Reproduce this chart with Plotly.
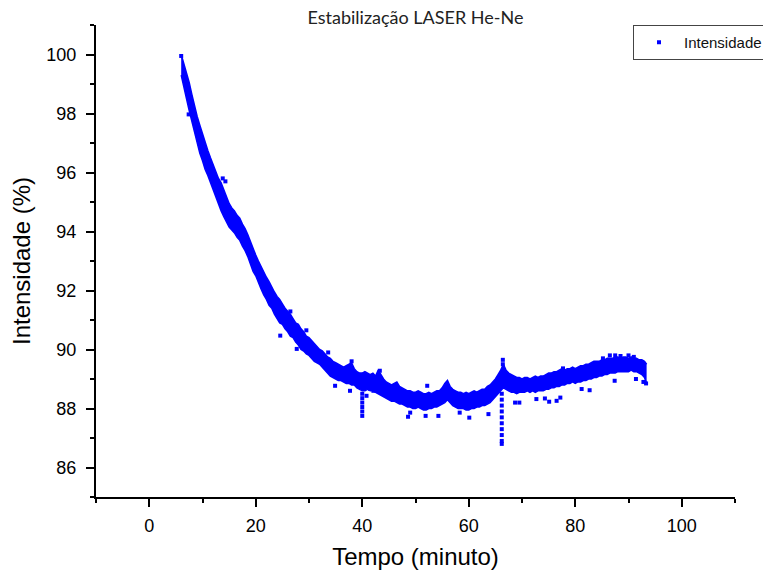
import plotly.graph_objects as go

# ---- data ----
t_band = [6.0, 6.5, 7.0, 7.5, 8.0, 8.5, 9.0, 9.5, 10.0, 10.5, 11.0, 11.5, 12.0, 12.5, 13.0, 13.5,
          14.0, 14.5, 15.0, 15.5, 16.0, 16.5, 17.0, 17.5, 18.0, 18.5, 19.0, 19.5, 20.0, 20.5, 21.0,
          21.5, 22.0, 22.5, 23.0, 23.5, 24.0, 24.5, 25.0, 25.5, 26.0, 26.5, 27.0, 27.5, 28.0, 28.5,
          29.0, 29.5, 30.0, 30.5, 31.0, 31.5, 32.0, 32.5, 33.0, 33.5, 34.0, 34.5, 35.0, 35.5, 36.0,
          36.5, 37.0, 37.5, 38.0, 38.5, 39.0, 39.5, 40.0, 40.5, 41.0, 41.5, 42.0, 42.5, 43.0, 43.5,
          44.0, 44.5, 45.0, 45.5, 46.0, 46.5, 47.0, 47.5, 48.0, 48.5, 49.0, 49.5, 50.0, 50.5, 51.0,
          51.5, 52.0, 52.5, 53.0, 53.5, 54.0, 54.5, 55.0, 55.5, 56.0, 56.5, 57.0, 57.5, 58.0, 58.5,
          59.0, 59.5, 60.0, 60.5, 61.0, 61.5, 62.0, 62.5, 63.0, 63.5, 64.0, 64.5, 65.0, 65.5, 66.0,
          66.5, 67.0, 67.5, 68.0, 68.5, 69.0, 69.5, 70.0, 70.5, 71.0, 71.5, 72.0, 72.5, 73.0, 73.5,
          74.0, 74.5, 75.0, 75.5, 76.0, 76.5, 77.0, 77.5, 78.0, 78.5, 79.0, 79.5, 80.0, 80.5, 81.0,
          81.5, 82.0, 82.5, 83.0, 83.5, 84.0, 84.5, 85.0, 85.5, 86.0, 86.5, 87.0, 87.5, 88.0, 88.5,
          89.0, 89.5, 90.0, 90.5, 91.0, 91.5, 92.0, 92.5, 93.0, 93.4]

band_high = [100.0, 99.7, 99.4, 99.05, 98.65, 98.25, 97.9, 97.6, 97.3, 97.0, 96.75, 96.5, 96.25, 96.0,
             95.8, 95.65, 95.4, 95.15, 94.95, 94.8, 94.7, 94.55, 94.45, 94.25, 94.1, 93.9, 93.65,
             93.4, 93.2, 93.0, 92.8, 92.6, 92.45, 92.3, 92.1, 91.95, 91.8, 91.7, 91.55, 91.4, 91.3,
             91.2, 91.05, 90.9, 90.85, 90.7, 90.6, 90.45, 90.4, 90.3, 90.2, 90.1, 90.0, 89.95, 89.85,
             89.75, 89.7, 89.6, 89.55, 89.5, 89.45, 89.4, 89.45, 89.5, 89.55, 89.35, 89.25, 89.2,
             89.2, 89.25, 89.2, 89.15, 89.2, 89.1, 89.3, 89.15, 89.0, 88.9, 88.85, 88.8, 88.85, 88.9,
             88.75, 88.7, 88.65, 88.6, 88.6, 88.55, 88.55, 88.6, 88.55, 88.5, 88.5, 88.55, 88.5,
             88.55, 88.6, 88.6, 88.7, 88.85, 88.95, 88.75, 88.65, 88.6, 88.55, 88.55, 88.5, 88.55,
             88.5, 88.55, 88.6, 88.55, 88.6, 88.65, 88.65, 88.75, 88.8, 88.9, 89.0, 89.15, 89.3,
             89.5, 89.3, 89.2, 89.15, 89.1, 89.05, 89.05, 89.0, 89.05, 89.05, 89.0, 89.05, 89.1,
             89.05, 89.1, 89.1, 89.15, 89.2, 89.2, 89.25, 89.25, 89.3, 89.35, 89.3, 89.35, 89.35,
             89.4, 89.35, 89.4, 89.45, 89.45, 89.5, 89.5, 89.55, 89.6, 89.6, 89.6, 89.65, 89.65,
             89.7, 89.7, 89.7, 89.75, 89.75, 89.7, 89.75, 89.75, 89.7, 89.75, 89.7, 89.7, 89.65,
             89.65, 89.6, 89.5]

band_low = [99.3, 98.85, 98.5, 98.1, 97.75, 97.35, 97.0, 96.65, 96.4, 96.1, 95.9, 95.65, 95.4, 95.15,
            94.95, 94.7, 94.5, 94.3, 94.15, 94.05, 93.95, 93.8, 93.7, 93.5, 93.35, 93.15, 92.9,
            92.65, 92.5, 92.25, 92.05, 91.85, 91.7, 91.5, 91.4, 91.2, 91.05, 90.9, 90.85, 90.7,
            90.6, 90.45, 90.4, 90.25, 90.15, 90.0, 89.95, 89.85, 89.8, 89.7, 89.6, 89.55, 89.5,
            89.4, 89.3, 89.2, 89.1, 89.05, 89.0, 88.95, 88.95, 88.9, 88.85, 88.85, 88.8, 88.8,
            88.7, 88.65, 88.6, 88.6, 88.65, 88.6, 88.6, 88.55, 88.5, 88.45, 88.4, 88.35, 88.3,
            88.25, 88.25, 88.2, 88.15, 88.15, 88.1, 88.05, 88.05, 88.0, 88.0, 88.05, 88.0, 87.95,
            87.95, 88.0, 88.0, 88.05, 88.05, 88.1, 88.15, 88.2, 88.3, 88.2, 88.1, 88.05, 88.0,
            88.0, 88.0, 87.95, 87.95, 88.0, 88.0, 88.05, 88.05, 88.1, 88.1, 88.15, 88.2, 88.3,
            88.4, 88.5, 88.6, 88.7, 88.65, 88.6, 88.55, 88.55, 88.5, 88.55, 88.55, 88.55, 88.6,
            88.55, 88.6, 88.55, 88.6, 88.6, 88.6, 88.65, 88.65, 88.7, 88.7, 88.75, 88.75, 88.8,
            88.8, 88.85, 88.85, 88.9, 88.85, 88.9, 88.9, 88.95, 88.95, 89.0, 89.0, 89.05, 89.05,
            89.1, 89.1, 89.15, 89.15, 89.2, 89.2, 89.2, 89.25, 89.25, 89.25, 89.25, 89.25, 89.3,
            89.25, 89.25, 89.2, 89.15, 89.05, 88.85]

t_points = [6.0, 7.4, 13.8, 14.3, 24.6, 26.5, 27.7, 29.5, 33.6, 34.9, 37.7, 38.0, 42.1, 40.8, 41.5,
            43.3, 48.6, 49.0, 51.9, 52.2, 54.3, 58.3, 60.1, 63.7,
            40.0, 40.0, 40.0, 40.0, 40.0, 40.0,
            66.2, 66.2, 66.2, 66.2, 66.2, 66.2, 66.2, 66.2, 66.2, 66.2, 66.4, 66.4,
            68.7, 69.5, 72.7, 74.3, 75.1, 76.5, 77.2, 77.7, 81.2, 82.7, 85.2, 87.4, 91.4,
            86.5, 87.5, 88.5, 90.0, 91.0, 92.8, 93.3]
v_points = [99.95, 97.97, 95.8, 95.7, 90.47, 91.29, 90.02, 90.65, 89.9, 88.77, 88.6, 89.6, 88.6,
            88.43, 88.66, 89.28, 87.72, 87.86, 87.75, 88.77, 87.75, 87.86, 87.69, 87.81,
            88.5, 88.35, 88.2, 88.05, 87.9, 87.75,
            88.5, 88.3, 88.1, 87.9, 87.7, 87.5, 87.3, 87.1, 86.9, 86.8, 89.5, 89.65,
            88.2, 88.2, 88.32, 88.34, 88.23, 88.26, 88.37, 89.36, 88.66, 88.62, 89.7, 88.94, 89.0,
            89.8, 89.8, 89.78, 89.8, 89.75, 88.9, 88.85]

x_ticks = [0, 20, 40, 60, 80, 100]
y_ticks = [86, 88, 90, 92, 94, 96, 98, 100]

BLUE = "#0000FF"
FONT = "Liberation Sans, Arial, sans-serif"

# page body has an 8px margin: figure is 763x563 placed at (8, 8)
W, H = 763, 563
L, R, T, B = 88, 36, 17, 74
PW = W - L - R

fig = go.Figure()
fig.add_trace(go.Scatter(x=t_band, y=band_low, mode="lines",
                         line=dict(color=BLUE, width=1.5), showlegend=False, hoverinfo="skip"))
fig.add_trace(go.Scatter(x=t_band, y=band_high, mode="lines", fill="tonexty",
                         fillcolor=BLUE, line=dict(color=BLUE, width=1.5),
                         showlegend=False, hoverinfo="skip"))
fig.add_trace(go.Scatter(x=t_points, y=v_points, mode="markers", name="Intensidade",
                         marker=dict(symbol="square", size=4, color=BLUE, line=dict(width=0))))

fig.update_layout(
    width=W, height=H,
    paper_bgcolor="white", plot_bgcolor="white",
    margin=dict(l=L, r=R, t=T, b=B, autoexpand=False),
    title=dict(text="Estabilização LASER He-Ne", x=0.5, xref="paper", xanchor="center",
               y=1 - 3 / H, yref="container", yanchor="top",
               font=dict(family="Lato, Open Sans, sans-serif", size=18, color="#222")),
    showlegend=True,
    legend=dict(x=(625 - L) / PW, y=1, xanchor="left", yanchor="top",
                bordercolor="#444", borderwidth=1, bgcolor="white",
                font=dict(family=FONT, size=15, color="#111"),
                itemwidth=40),
    font=dict(family=FONT, color="black"),
)
fig.update_xaxes(range=[-10, 110], tickvals=x_ticks, ticks="outside", ticklen=8, tickwidth=1.5,
                 tickcolor="black", showline=True, linecolor="black", linewidth=2,
                 showgrid=False, zeroline=False, tickfont=dict(size=18, family=FONT),
                 ticklabelstandoff=3,
                 minor=dict(ticks="outside", ticklen=4, tickwidth=1.5, tickcolor="black", dtick=10, tick0=0),
                 title=dict(text="Tempo (minuto)", font=dict(size=24, family=FONT), standoff=14))
fig.update_yaxes(range=[85, 101], tickvals=y_ticks, ticks="outside", ticklen=8, tickwidth=1.5,
                 tickcolor="black", showline=True, linecolor="black", linewidth=2,
                 showgrid=False, zeroline=False, tickfont=dict(size=18, family=FONT),
                 ticklabelstandoff=6,
                 minor=dict(ticks="outside", ticklen=4, tickwidth=1.5, tickcolor="black", dtick=1, tick0=0),
                 title=dict(text="Intensidade (%)", font=dict(size=24, family=FONT), standoff=12))

fig.write_html("out.html")
